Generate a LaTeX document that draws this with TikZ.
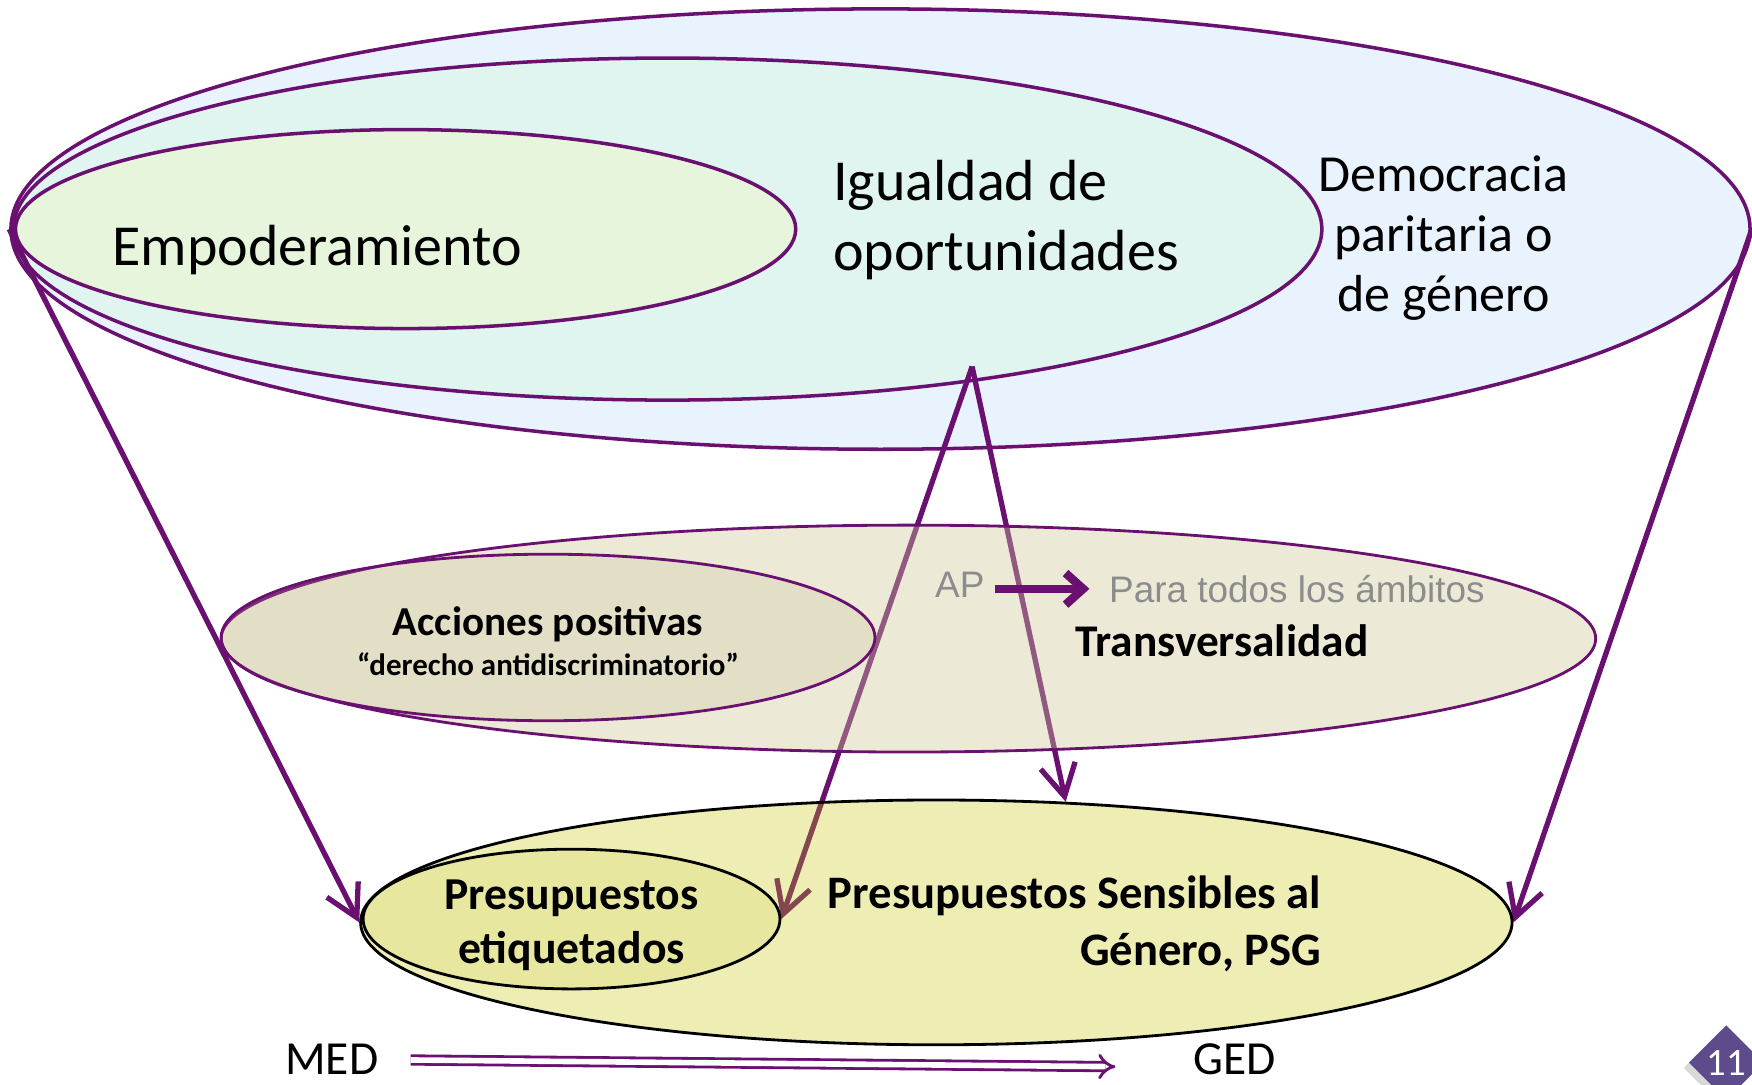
\documentclass[tikz,border=0pt]{standalone}
\usepackage{fontspec}
\setmainfont{Carlito}
\newfontfamily\arialfont{Liberation Sans}
\usepackage{tikz}
\usetikzlibrary{shapes.geometric,arrows.meta,positioning,shadows}

\definecolor{linepurple}{RGB}{106,16,112}
\definecolor{demofill}{RGB}{233,243,253}
\definecolor{igualfill}{RGB}{224,245,240}
\definecolor{empofill}{RGB}{230,245,220}
\definecolor{transfill}{RGB}{207,200,153}
\definecolor{apfill}{RGB}{196,183,134}
\definecolor{psgfill}{RGB}{198,195,8}
\definecolor{etiqfill}{RGB}{208,207,76}
\definecolor{graytext}{RGB}{140,140,140}
\definecolor{slidepurple}{RGB}{94,75,139}

\pgfdeclarelayer{back}
\pgfdeclarelayer{links}
\pgfsetlayers{back,links,main}

\begin{document}
\begin{tikzpicture}[x=0.011173cm,y=-0.011173cm,
   oval/.style={ellipse,draw=linepurple,line width=1pt,inner sep=0pt},
   midoval/.style={ellipse,draw=linepurple,line width=0.8pt,inner sep=0pt,fill opacity=#1},
   lowoval/.style={ellipse,draw=black,line width=0.8pt,inner sep=0pt,fill opacity=#1},
   link/.style={draw=linepurple,line width=1.5pt,-{Straight Barb[length=9pt,width=10pt]}},
   aparrow/.style={draw=linepurple,line width=2.4pt,-{Straight Barb[length=5pt,width=9pt]}},
   dbl/.style={draw=linepurple,double=white,double distance=1.6pt,line width=0.8pt,-{Implies}},
   lbl/.style={inner sep=0pt}]
   \useasboundingbox (0,0) rectangle (1568,971);

   % outer levels
   \begin{pgfonlayer}{back}
   \node[oval,fill=demofill,minimum width=17.385cm,minimum height=4.402cm] (demo) at (788,205) {};
   \node[oval,fill=igualfill,minimum width=13.08cm,minimum height=3.419cm] (igual) at (597.5,205) {};
   \node[oval,fill=empofill,minimum width=7.8cm,minimum height=1.989cm] (empo) at (363,205) {};
   \end{pgfonlayer}
   \coordinate (fork) at (870,328);

   \node[lbl,anchor=base west,font=\fontsize{16.5}{20}\selectfont] (tempo) at (100,238) {Empoderamiento};
   \node[lbl,anchor=west,align=left,font=\fontsize{16.5}{20}\selectfont] (tigual) at (745,197) {Igualdad de\\oportunidades};
   \node[lbl,align=center,font=\fontsize{14.8}{17.1}\selectfont] (tdemo) at (1292,213) {Democracia\\paritaria o\\de género};

   % middle level
   \node[midoval=0.4,fill=transfill,minimum width=13.74cm,minimum height=2.268cm] (trans) at (813,571.5) {};
   \node[midoval=0.2,fill=apfill,minimum width=6.536cm,minimum height=1.665cm] (accpos) at (490.5,570.5) {};
   \node[lbl,align=center,font=\bfseries\fontsize{11.7}{11.5}\selectfont] (tacc) at (490.5,574)
         {Acciones positivas\\{\fontsize{8.8}{10}\selectfont “derecho antidiscriminatorio”}};
   \node[lbl,anchor=base,font=\arialfont\fontsize{10.5}{12}\selectfont,text=graytext] (ap) at (859,535) {AP};
   \node[lbl,anchor=base west,font=\arialfont\fontsize{10.5}{12}\selectfont,text=graytext] (todos) at (992,539) {Para todos los ámbitos};
   \node[lbl,anchor=west,font=\bfseries\fontsize{12.9}{15}\selectfont] (ttrans) at (962,573) {Transversalidad};
   \draw[aparrow,shorten <=2.9pt,shorten >=5.4pt] (ap.east |- todos.west) -- (todos.west);

   % budgets
   \node[lowoval=0.3,fill=psgfill,minimum width=11.51cm,minimum height=2.447cm] (psg) at (838,825.5) {};
   \node[lowoval=0.2,fill=etiqfill,minimum width=4.167cm,minimum height=1.397cm] (etiq) at (511.5,822.5) {};
   \node[lbl,align=center,font=\bfseries\fontsize{13}{15.2}\selectfont] (tetiq) at (511.5,828) {Presupuestos\\etiquetados};
   \node[lbl,anchor=east,align=right,font=\bfseries\fontsize{13.25}{16.2}\selectfont] (tpsg) at (1183,827)
         {Presupuestos Sensibles al\\Género, PSG};

   \begin{pgfonlayer}{links}
   \draw[link] (demo.west) -- (psg.west);
   \draw[link] (demo.east) -- (psg.east);
   \draw[link] (fork) -- (psg.43);
   \draw[link] (fork) -- (etiq.east);
   \end{pgfonlayer}

   % MED -> GED
   \node[lbl,anchor=base,font=\fontsize{13.5}{16}\selectfont] (med) at (297,962) {MED};
   \node[lbl,anchor=base,font=\fontsize{13.5}{16}\selectfont] (ged) at (1105,962) {GED};
   \draw[dbl,shorten <=9pt,shorten >=22pt] (med.east) -- ([yshift=-2.2pt]ged.west);

   \node[diamond,fill=slidepurple,text=white,minimum width=0.75cm,minimum height=0.75cm,inner sep=0pt,
         font=\fontsize{11}{13}\selectfont,drop shadow={shadow xshift=-1.5pt,shadow yshift=-1.5pt,opacity=.3}]
         (page) at (1545,951) {11};
\end{tikzpicture}
\end{document}
